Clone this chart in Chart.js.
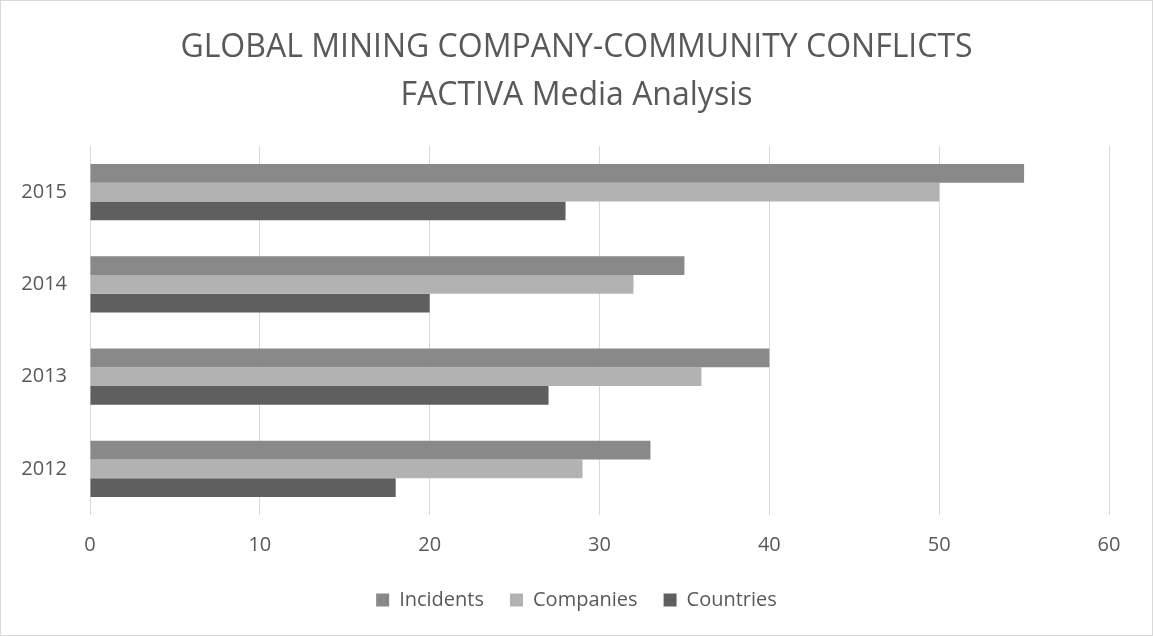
<!DOCTYPE html>
<html>
<head>
<meta charset="utf-8">
<script src="https://cdn.jsdelivr.net/npm/chart.js@4.4.0/dist/chart.umd.min.js"></script>
<style>
    html, body { margin: 0; padding: 0; background: #fff; }
    #wrap {
        width: 1153px; height: 636px; box-sizing: border-box;
        border: 1px solid #d9d9d9; position: relative;
    }
</style>
</head>
<body>
<div id="wrap"><canvas id="chart"></canvas></div>
<script>
const years = ['2012', '2013', '2014', '2015'];
const incidents = [33, 40, 35, 55];
const companies = [29, 36, 32, 50];
const countries = [18, 27, 20, 28];
const xTicks = [0, 10, 20, 30, 40, 50, 60];

const textColor = '#595959';
const gridColor = '#d9d9d9';
const fontFamily = '"Open Sans", "Noto Sans", sans-serif';

Chart.defaults.font.family = fontFamily;
Chart.defaults.color = textColor;

function makeDataset(label, values, color) {
    return {
        label: label,
        data: values,
        backgroundColor: color,
        borderWidth: 0,
        categoryPercentage: 0.61,
        barPercentage: 1.0
    };
}

const ctx = document.getElementById('chart').getContext('2d');
new Chart(ctx, {
    type: 'bar',
    data: {
        labels: years,
        datasets: [
            makeDataset('Incidents', incidents, '#898989'),
            makeDataset('Companies', companies, '#b2b2b2'),
            makeDataset('Countries', countries, '#5f5f5f')
        ]
    },
    options: {
        indexAxis: 'y',
        responsive: true,
        maintainAspectRatio: false,
        animation: false,
        layout: {
            padding: { left: 0, right: 0, top: 0, bottom: 15 }
        },
        scales: {
            x: {
                min: xTicks[0],
                max: xTicks[xTicks.length - 1],
                afterBuildTicks: (scale) => {
                    scale.ticks = xTicks.map(v => ({ value: v }));
                },
                grid: { color: gridColor, lineWidth: 1, drawTicks: false },
                border: { display: false },
                ticks: { padding: 18, font: { size: 20 }, color: textColor },
                afterFit: (scale) => { scale.height = 49; }
            },
            y: {
                reverse: true,
                grid: { display: false },
                border: { display: false },
                ticks: { padding: 15, font: { size: 20 }, color: textColor },
                afterFit: (scale) => { scale.width = 89; }
            },
            // empty right-hand gutter so title and legend stay centred on the canvas
            gutter: {
                type: 'linear',
                axis: 'y',
                position: 'right',
                grid: { display: false },
                border: { display: false },
                ticks: { display: false },
                afterFit: (scale) => { scale.width = 43; }
            }
        },
        plugins: {
            title: {
                display: true,
                text: ['GLOBAL MINING COMPANY-COMMUNITY CONFLICTS', 'FACTIVA Media Analysis'],
                color: textColor,
                font: { size: 32, weight: 'normal', lineHeight: 1.5 },
                padding: { top: 23, bottom: 26 }
            },
            legend: {
                position: 'bottom',
                labels: {
                    boxWidth: 13,
                    boxHeight: 13,
                    padding: 26,
                    font: { size: 20 },
                    color: textColor
                }
            },
            tooltip: { enabled: false }
        }
    }
});
</script>
</body>
</html>
